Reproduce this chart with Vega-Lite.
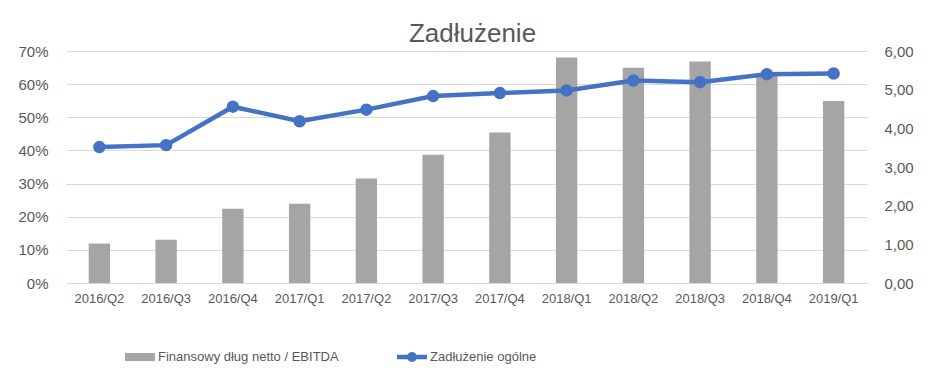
{
  "$schema": "https://vega.github.io/schema/vega-lite/v6.json",
  "width": 801,
  "height": 232,
  "autosize": {"type": "none"},
  "padding": {"left": 66, "top": 51, "right": 77, "bottom": 92},
  "background": "white",
  "title": {"text": "Zadłużenie", "font": "Liberation Sans", "fontSize": 26, "fontWeight": "normal", "color": "#595959", "anchor": "middle", "frame": "group", "offset": -3, "dx": 6},
  "config": {
    "locale": {"number": {"decimal": ",", "thousands": " ", "grouping": [3], "currency": ["", " zł"]}},
    "view": {"stroke": null},
    "axis": {"labelFont": "Liberation Sans", "labelColor": "#595959", "ticks": false, "domain": false, "grid": false, "title": null},
    "legend": {"labelFont": "Liberation Sans", "labelFontSize": 13, "labelColor": "#595959", "padding": 0, "labelOffset": 3, "labelLimit": 0, "title": null}
  },
  "data": {"values": [
    {"q": "2016/Q2", "ebitda": 1.02, "zad": 0.410},
    {"q": "2016/Q3", "ebitda": 1.12, "zad": 0.416},
    {"q": "2016/Q4", "ebitda": 1.92, "zad": 0.532},
    {"q": "2017/Q1", "ebitda": 2.05, "zad": 0.488},
    {"q": "2017/Q2", "ebitda": 2.70, "zad": 0.523},
    {"q": "2017/Q3", "ebitda": 3.32, "zad": 0.564},
    {"q": "2017/Q4", "ebitda": 3.89, "zad": 0.573},
    {"q": "2018/Q1", "ebitda": 5.83, "zad": 0.581},
    {"q": "2018/Q2", "ebitda": 5.57, "zad": 0.611},
    {"q": "2018/Q3", "ebitda": 5.73, "zad": 0.606},
    {"q": "2018/Q4", "ebitda": 5.38, "zad": 0.630},
    {"q": "2019/Q1", "ebitda": 4.71, "zad": 0.632}
  ]},
  "encoding": {
    "x": {"field": "q", "type": "ordinal", "sort": null, "scale": {"paddingInner": 0, "paddingOuter": 0},
      "axis": {"labelAngle": 0, "labelFontSize": 13, "labelPadding": 9, "domain": true, "domainColor": "#D9D9D9", "domainWidth": 1}}
  },
  "layer": [
    {
      "mark": {"type": "bar", "width": {"band": 0.32}},
      "encoding": {
        "y": {"field": "ebitda", "type": "quantitative", "scale": {"domain": [0, 6], "nice": false},
          "axis": {"orient": "right", "values": [0, 1, 2, 3, 4, 5, 6], "format": ".2f", "labelFontSize": 15, "labelPadding": 17}},
        "fill": {"datum": "Finansowy dług netto / EBITDA", "type": "nominal", "scale": {"range": ["#A5A5A5"]},
          "legend": {"orient": "none", "legendX": 59, "legendY": 291, "symbolType": "M-1,-0.27 L1,-0.27 L1,0.27 L-1,0.27 Z", "symbolSize": 900, "symbolStrokeWidth": 0}}
      }
    },
    {
      "mark": {"type": "line", "color": "#4472C4", "strokeWidth": 4.5, "point": {"filled": true, "size": 110, "color": "#4472C4"}},
      "encoding": {
        "y": {"field": "zad", "type": "quantitative", "scale": {"domain": [0, 0.7], "nice": false},
          "axis": {"orient": "left", "values": [0, 0.1, 0.2, 0.3, 0.4, 0.5, 0.6, 0.7], "format": ".0%", "grid": true, "gridColor": "#D9D9D9", "gridWidth": 1.2, "labelFontSize": 15, "labelPadding": 18}},
        "stroke": {"datum": "Zadłużenie ogólne", "type": "nominal", "scale": {"range": ["#4472C4"]},
          "legend": {"orient": "none", "legendX": 331, "legendY": 291, "symbolType": "M-1,-0.15 L1,-0.15 L1,0.15 L-1,0.15 Z M-0.33,0 A0.33,0.33 0 1,1 0.33,0 A0.33,0.33 0 1,1 -0.33,0 Z", "symbolSize": 900,
            "encode": {"symbols": {"update": {"fill": {"value": "#4472C4"}, "strokeWidth": {"value": 0}}}}}}
      }
    }
  ],
  "resolve": {"scale": {"y": "independent", "fill": "independent", "stroke": "independent"}}
}
